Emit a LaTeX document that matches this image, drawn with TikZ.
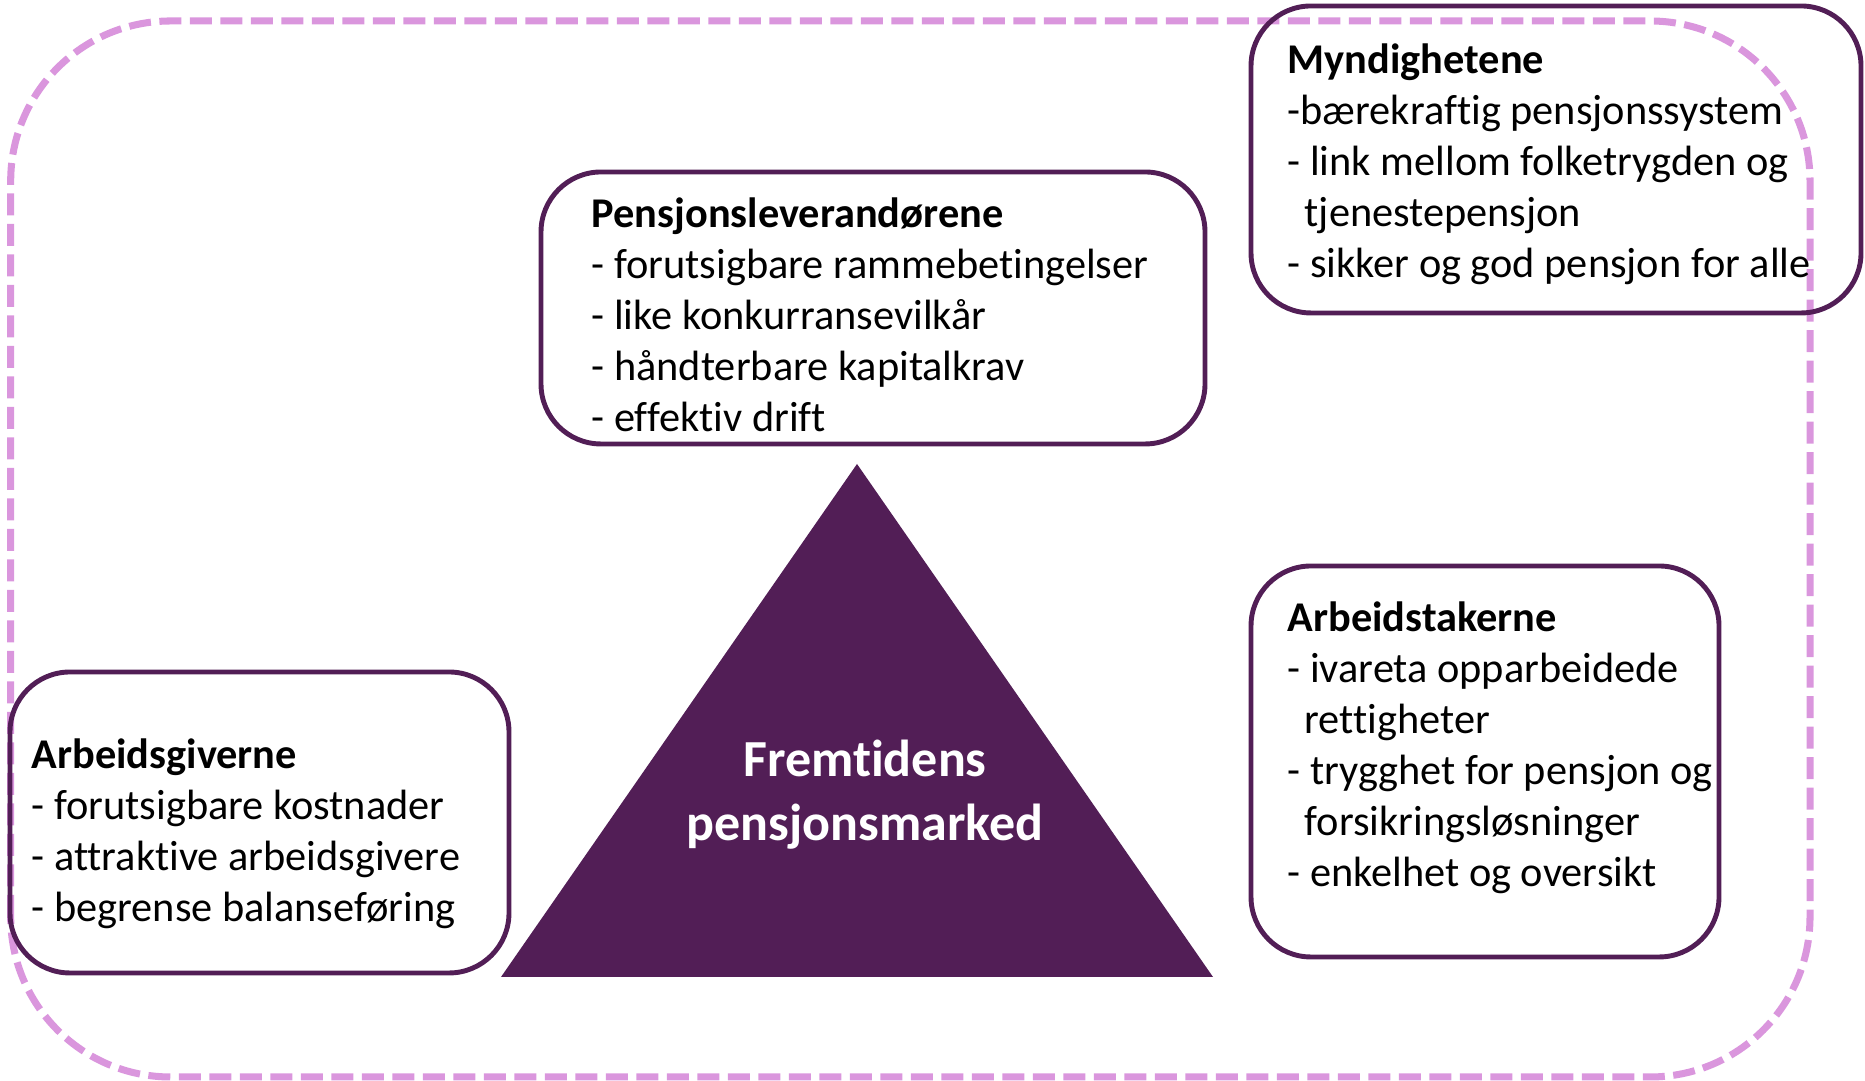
\documentclass[tikz,border=0pt]{standalone}
\usepackage{fontspec}
\setmainfont{Carlito}[Ligatures=NoCommon]
\definecolor{plum}{HTML}{521E56}
\definecolor{orchidline}{HTML}{DA96DD}

\begin{document}
\begin{tikzpicture}[
		box/.style={draw=plum, line width=1.4pt, rounded corners=0.6cm},
		txt/.style={align=left, anchor=west, inner sep=0pt, font=\fontsize{12.05}{14.5}\selectfont},
	]
		\useasboundingbox (0,0) rectangle (18.65,10.81);
		\draw[orchidline, line width=2pt, dash pattern=on 0.22cm off 0.085cm, rounded corners=1.6cm] (0.107,0.04) rectangle (18.10,10.60);

		\draw[box] (12.51,7.68) rectangle (18.61,10.75);
		\draw[box] (5.41,6.37) rectangle (12.05,9.09);
		\draw[box] (0.10,1.08) rectangle (5.09,4.09);
		\draw[box] (12.51,1.24) rectangle (17.19,5.15);
		\fill[plum] (8.57,6.17) -- (5.01,1.04) -- (12.13,1.04) -- cycle;

		\node[txt] (1) at (12.87,9.17) {\textbf{Myndighetene}\\-bærekraftig pensjonssystem\\- link mellom folketrygden og\\\hspace*{0.17cm}tjenestepensjon\\- sikker og god pensjon for alle};
		\node[txt] (2) at (5.91,7.66) {\textbf{Pensjonsleverandørene}\\- forutsigbare rammebetingelser\\- like konkurransevilkår\\- håndterbare kapitalkrav\\- effektiv drift};
		\node[txt] (3) at (0.31,2.475) {\textbf{Arbeidsgiverne}\\- forutsigbare kostnader\\- attraktive arbeidsgivere\\- begrense balanseføring};
		\node[txt] (4) at (12.87,3.33) {\textbf{Arbeidstakerne}\\- ivareta opparbeidede\\\hspace*{0.17cm}rettigheter\\- trygghet for pensjon og\\\hspace*{0.17cm}forsikringsløsninger\\- enkelhet og oversikt};

		\node[align=center, text=white, font=\bfseries\fontsize{14.8}{18.2}\selectfont] (5) at (8.65,2.86) {Fremtidens\\pensjonsmarked};

	\end{tikzpicture}
\end{document}
